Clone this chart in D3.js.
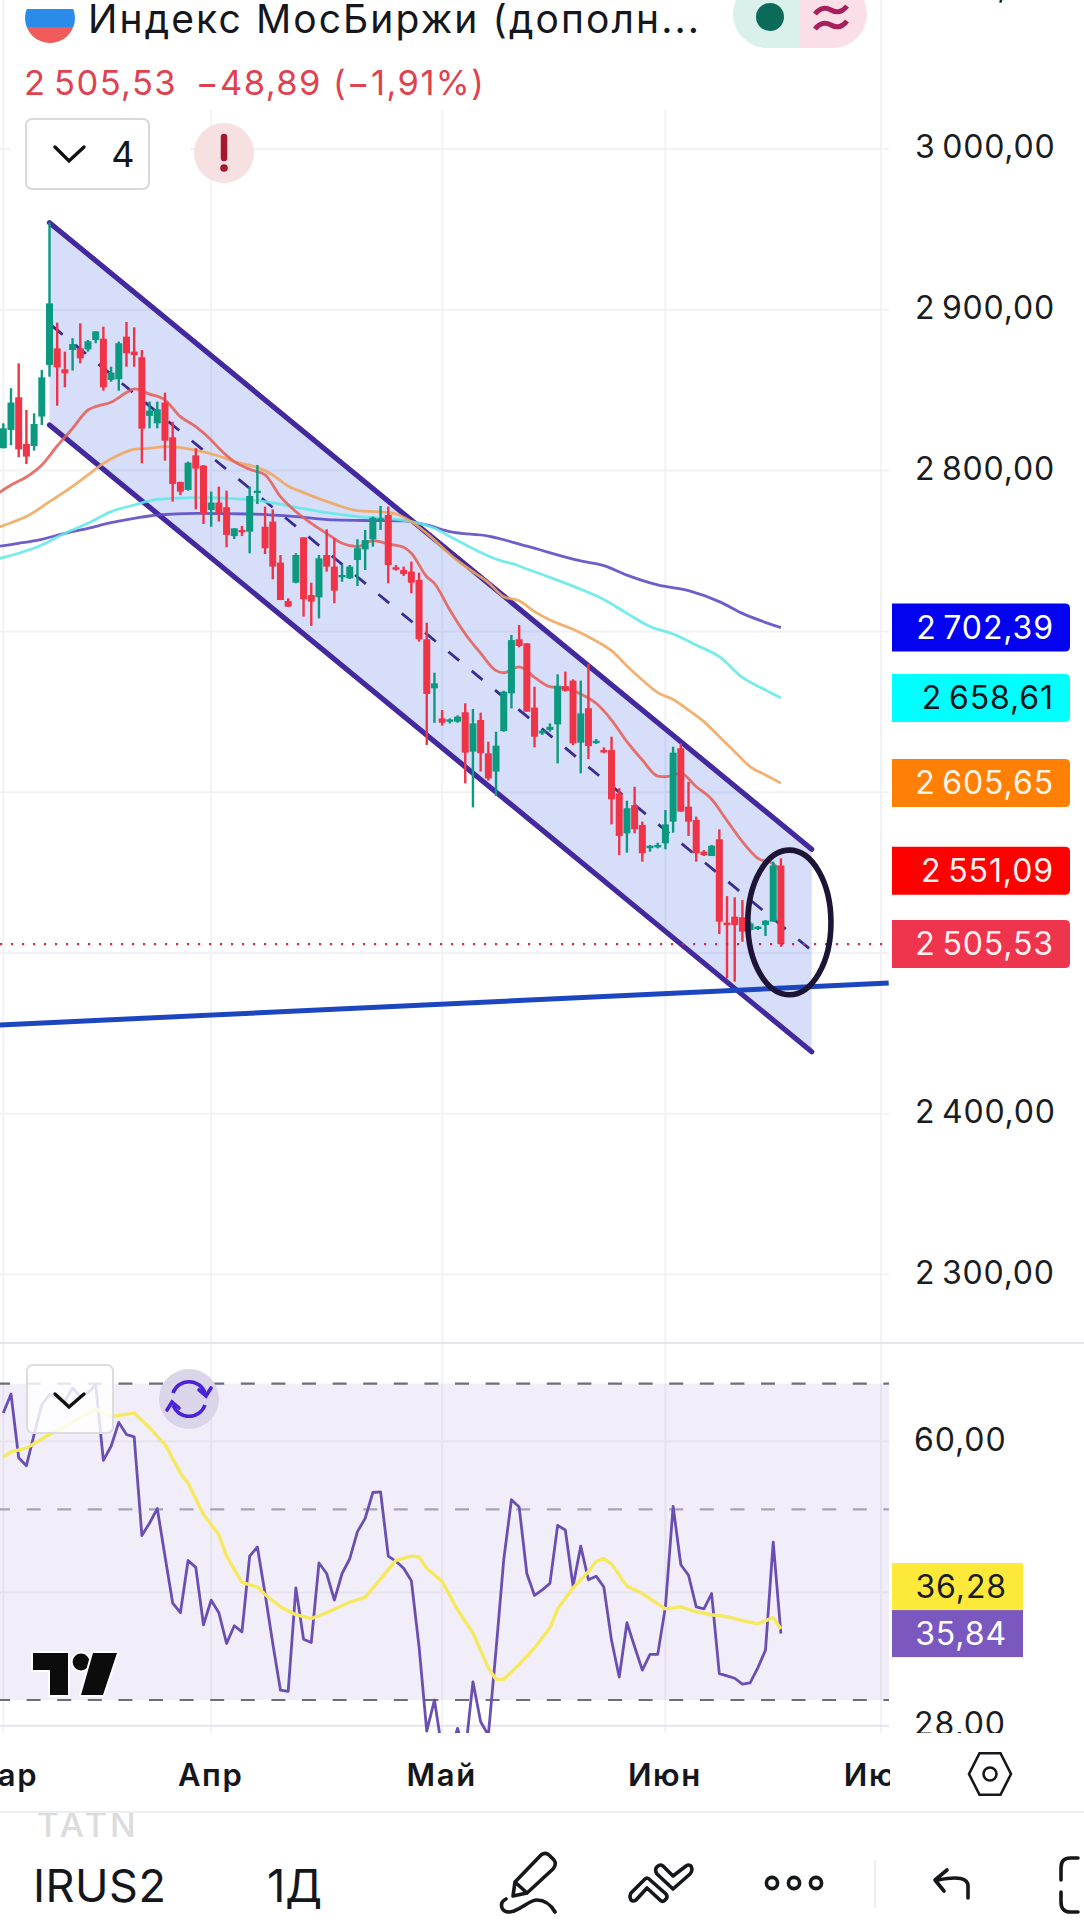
<!DOCTYPE html>
<html lang="ru">
<head>
<meta charset="utf-8">
<title>Индекс МосБиржи</title>
<script src="https://cdn.jsdelivr.net/npm/d3@7"></script>
<style>
  html, body { margin: 0; background: #fff; }
  svg { display: block; font-family: Inter, Roboto, sans-serif; }
</style>
</head>
<body>
<svg id="chart" width="1084" height="1920"></svg>
<script>
// Daily candles of the Moscow Exchange index, one entry per session
const opens = [2813.9,2825.3,2845.6,2816.6,2815.3,2833.6,2865.7,2876,2863,2875,2876,2875.4,2881.2,2882,2856.4,2856.8,2883.3,2874,2870.5,2834,2829.4,2842.3,2820.7,2792.9,2788,2809.5,2803.1,2775.5,2780.1,2777.2,2759.3,2763.1,2762,2786.3,2765.1,2768.3,2742.8,2718.9,2730.3,2758.5,2722.6,2721.2,2747.5,2740.3,2734,2733,2744.4,2751,2757.3,2768.9,2772.4,2739.9,2738.2,2737.2,2732,2695.1,2664.6,2645.9,2643.9,2643.9,2649.7,2625.2,2644.9,2624.2,2612.8,2638,2661.5,2695.1,2692.6,2652.6,2636.6,2638.7,2642.2,2666,2669.4,2630.8,2652.2,2630.8,2626.2,2626.2,2599.3,2574.4,2592,2579.6,2565.7,2566.1,2568.2,2581.7,2627.3,2591,2582.7,2563,2560.3,2570.7,2518.9,2522.6,2522.2,2514.3,2515.1,2517.4,2519.5,2554.42];
const highs = [2829.4,2851.2,2866.7,2837.7,2835.6,2862.6,2954.2,2892,2874,2882.3,2891.6,2881.2,2886.6,2889.5,2864.6,2880.2,2892.4,2889.1,2875,2842.9,2842.9,2848.5,2830.4,2793.1,2805.6,2813.9,2803.5,2786.9,2790,2787.5,2764.1,2765.6,2790,2803.5,2777.6,2775.9,2747.5,2720.6,2748.6,2758.5,2730.3,2747.5,2763.5,2757.9,2741.3,2741.3,2757.3,2763.1,2771.4,2778,2777.6,2741.3,2740.3,2743.4,2736.5,2705.4,2674.3,2651.1,2645.9,2647.8,2655.3,2651.7,2649.5,2631.4,2637.6,2663.1,2697.8,2704,2692.6,2665.6,2638.7,2642.8,2673.3,2675,2670.2,2669.4,2679.7,2633.1,2627.9,2634.5,2602.4,2594.7,2603.4,2581.7,2567.2,2568.6,2588.9,2628.3,2630.4,2606.5,2584.8,2564,2567.2,2576.9,2535.4,2534.6,2532.9,2519.5,2516.8,2520.5,2556.8,2558.9];
const lows = [2813.9,2815.9,2808.3,2804.1,2812.4,2828.4,2858.4,2840.4,2851.8,2862.2,2866.7,2874,2879.2,2849.7,2855.3,2849.7,2864.6,2864.6,2804.5,2826.3,2826.3,2806.2,2780.7,2784.8,2787.5,2775.9,2766.8,2765.1,2768.3,2752.3,2757.5,2759.3,2748.6,2779.2,2748.1,2732.4,2719.5,2715.4,2729.9,2709.2,2703.4,2708.1,2737.2,2717.5,2730.9,2732.6,2728.2,2738.2,2752.7,2763.1,2729.9,2737.8,2734.5,2723.7,2693.6,2629.3,2643.2,2641.4,2642.8,2643.2,2605.5,2590.6,2612.8,2607.2,2597.6,2637.6,2652.1,2690.1,2650.1,2627.9,2635.6,2637.6,2617.9,2662.5,2629.3,2611.7,2620.6,2630,2624.2,2580,2560.9,2562.4,2574.4,2556.8,2563,2565.1,2564.5,2574.8,2587.9,2572.8,2556.8,2560.3,2560.3,2511.8,2484.2,2482.2,2507,2513.3,2514.3,2510.6,2519.5,2503.9];
const closes = [2826.3,2842.3,2813.2,2808.7,2829,2858,2904,2864.2,2860.5,2878.7,2869.8,2880.4,2886.6,2851.8,2860.9,2879.2,2873,2871.9,2826.1,2837.3,2838.1,2818.6,2791.7,2786.9,2804.9,2801.2,2773.4,2780.1,2773.4,2760,2764.1,2761.8,2784.2,2787.5,2751.7,2740.3,2719.5,2715.4,2747.5,2720,2718.5,2745.4,2740.3,2725.3,2735.1,2740.3,2751.7,2756.8,2770.7,2770.3,2741.3,2738.6,2735.7,2730.3,2695.1,2661.1,2667.7,2643.2,2645.3,2647,2624.6,2642.8,2624.2,2608.6,2628.9,2662.5,2694.6,2690.9,2650.1,2634.5,2638.3,2640.7,2666.2,2663.1,2630.4,2649,2628.7,2632,2624.8,2595.6,2572.8,2590,2576.9,2562,2566.7,2567.2,2580,2624.6,2587.9,2581.7,2562,2560.9,2566.7,2519.5,2517.4,2517.4,2513.3,2518.4,2516.4,2520.1,2554.42,2505.53];

// Moving averages, each sampled at the listed session numbers
const maRedAt = [-1,1,3,5,7,9,11,12,14,16,17,19,21,23,25,27,28,30,32,34,36,38,40,42,44,46,48,50,52,53,55,56,58,60,62,64,65,67,69,71,73,75,77,79,81,83,85,86,88,90,92,94,96,98,100,101];
const maRed = [2784.8,2791,2796,2803.5,2815.3,2826.3,2837.7,2839.8,2842.5,2848.5,2850.8,2847.6,2843.9,2833.6,2827.3,2819,2813.9,2805.6,2800.8,2797.3,2783.8,2774.5,2767.2,2761,2754.8,2752.7,2756.4,2754.4,2752.3,2748.6,2734,2729.9,2713.3,2698.4,2686.4,2675.6,2674.3,2678,2671.4,2665.6,2664.6,2661.1,2655.3,2644.9,2631.4,2620,2610,2609.6,2611.7,2603.4,2595.6,2582.3,2569.2,2558.9,2555.4,2551.09];
const maOrangeAt = [-1,1,3,6,8,11,13,15,17,19,21,25,28,30,33,35,37,39,43,46,49,51,53,55,59,61,63,65,67,69,71,74,77,79,81,83,85,87,89,91,93,95,97,99,101];
const maOrange = [2764.1,2767.6,2771.4,2780.7,2786.9,2797.3,2804.5,2809.7,2813.2,2813.9,2814.9,2812.8,2809.1,2805.6,2802,2797.3,2790.4,2786.3,2779.2,2775.1,2774.3,2773,2768.3,2761,2744,2737.1,2730.3,2721.6,2719.1,2712.3,2707.1,2701.3,2694,2688,2678.5,2669.8,2661.9,2657.7,2651.1,2643.9,2634.5,2625.2,2615.9,2610.7,2605.65];
const maCyanAt = [-1,2,5,8,11,14,17,20,25,31,34,38,42,46,50,53,56,58,65,66,68,71,75,78,81,84,87,90,93,96,99,101];
const maCyan = [2744.8,2748.6,2753.7,2761,2767.2,2774.5,2778.6,2782.1,2783.2,2782.3,2780.7,2777.2,2773.8,2771.4,2770.1,2768.3,2764.1,2759,2743.4,2742.3,2738.8,2733.6,2726.2,2719.9,2711.2,2703,2698.4,2691.5,2684.3,2671.4,2663.6,2658.61];
const maBlueAt = [-1,2,5,8,11,14,17,20,25,32,38,43,48,52,55,58,63,68,75,78,81,85,89,93,96,101];
const maBlue = [2752.7,2754.8,2757.3,2761,2764.1,2767.6,2770.3,2772.4,2773.4,2773,2771.4,2769.3,2768.9,2768.7,2766.2,2762,2759.3,2753,2743.8,2740.9,2735,2728.9,2725.3,2718.5,2711.2,2702.39];

// Drawn objects: descending channel, support line and the circled area
const channelSessions = [6, 105];
const channelUpper = [2954.2, 2564.5];
const channelMiddle = [2891.3, 2501.55];
const channelLower = [2828.4, 2438.6];
const supportSessions = [-1, 115];
const supportLine = [2455.1, 2481.3];
const circledSessions = [96.7, 107.5];
const circledPrices = [2564, 2474];

// Relative strength, one value per session, and its smoothing
const rsiValues = [64.7,68.1,57.4,56.2,61.1,66.2,68,67.4,66.8,69.2,67.7,68.3,69.8,57,59.2,63.1,61.1,60.7,46.6,48.2,50.1,44.1,38.9,37.9,43.6,42.8,36.7,39.2,37.9,34.9,36.6,36,44.1,45.2,39.9,34.9,30.8,30.7,40.5,35.3,35,43.3,42.1,39.2,42.1,43.8,47.1,48.8,52.3,52.4,44.1,43.5,42.7,41.3,34.6,27.6,30,26.2,26,27.8,26,31.5,28.3,27.3,34.3,43.7,51.3,50.3,42.1,39.7,40.3,41,47.9,47.3,40.7,45.3,41.4,41.8,40.6,35.2,31.9,36.9,34.6,32.5,33.9,33.9,38.5,50.4,43.1,41.9,38.5,38.3,39.9,32.2,32,31.8,31.3,31.4,32.7,34.3,45.8,35.84];
const rsiAvgAt = [0,1,3,6,8,10,12,14,15,17,19,21,23,24,26,28,29,31,33,34,36,38,40,42,45,47,49,51,53,54,55,57,59,61,63,64,65,67,69,71,72,74,76,77,78,79,81,83,86,88,90,92,94,96,98,100,101];
const rsiAvg = [57.5,58.3,58.9,61.1,62.4,63.9,65.4,64.1,64.3,64.7,62.2,59.5,55.1,53.6,49.3,46.7,44.1,41.1,40.6,39.8,38.5,37.7,37.3,37.9,39,39.5,41.5,43.6,44.1,44,42.7,41.2,38.2,35.9,32.7,31.7,31.7,33,34.5,36.4,38.3,40.5,42.3,43.5,43.8,43.2,40.7,39.9,38.3,38.5,38,37.7,37.5,37.1,36.8,37.4,36.28];

// Axis contents
const priceGrid = [3000,2900,2800,2700,2600,2500,2400,2300];
const priceTicks = [3100,3000,2900,2800,2400,2300];
const rsiGrid = [60,40,28];
const rsiTicks = [60,28];
const rsiBands = [70,50,30];
const monthSessions = [0,27,57,86,114];
const monthLabels = ["Мар","Апр","Май","Июн","Июл"];

const paneRight = 889;
const x = d3.scaleLinear().domain([0,114]).range([3.3,881]);
const y = d3.scaleLinear().domain([3000,2300]).range([149,1274.6]);
const yRsi = d3.scaleLog().domain([70,30]).range([1383.7,1700]);

const ru = d3.formatLocale({decimal:",",thousands:"\u2009",grouping:[3],currency:["",""]});
const fmtPrice = ru.format(",.2f");
const fmtRsi = ru.format(".2f");

const GREEN = "#0b9a80", RED = "#f03447", VIOLET = "#43289e";
const svg = d3.select("#chart");
svg.append("rect").attr("width",1084).attr("height",1920).attr("fill","#fff");

const defs = svg.append("defs");
defs.append("clipPath").attr("id","pricePane").append("rect").attr("width",paneRight).attr("height",1343);
defs.append("clipPath").attr("id","rsiPane").append("rect").attr("y",1345).attr("width",paneRight).attr("height",388);
defs.append("clipPath").attr("id","timePane").append("rect").attr("y",1745).attr("width",890).attr("height",60);
defs.append("clipPath").attr("id","rsiLabels").append("rect").attr("x",890).attr("y",1345).attr("width",194).attr("height",388);
defs.append("clipPath").attr("id","footer").append("rect").attr("y",1813).attr("width",1084).attr("height",107);

// Grid
const gridColor = "#f1f2f5";
const grid = svg.append("g").attr("fill","none").attr("stroke",gridColor).attr("stroke-width",2);
grid.selectAll(".v").data(monthSessions).join("line")
  .attr("x1",d=>x(d)).attr("x2",d=>x(d)).attr("y1",0).attr("y2",1733);
grid.selectAll(".h").data(priceGrid).join("line")
  .attr("x1",0).attr("x2",paneRight).attr("y1",d=>y(d)).attr("y2",d=>y(d));

// Price pane
const pricePane = svg.append("g").attr("clip-path","url(#pricePane)");
const seriesLine = (at, vals, scale) => d3.line().x((d,i)=>x(at[i])).y(d=>scale(d))(vals);

// Channel tint, median and borders
const channelArea = d3.area().x((d,i)=>x(channelSessions[i])).y0((d,i)=>y(channelLower[i])).y1((d,i)=>y(channelUpper[i]));
pricePane.append("path").datum(channelSessions).attr("d",channelArea).attr("fill","rgb(50,90,225)").attr("fill-opacity",0.2);
pricePane.append("path").attr("d",seriesLine(channelSessions,channelMiddle,y)).attr("fill","none")
  .attr("stroke","#3b2c90").attr("stroke-width",2.8).attr("stroke-dasharray","14 16.2").attr("stroke-dashoffset",-3);
[channelUpper,channelLower].forEach(vals=>{
  pricePane.append("path").attr("d",seriesLine(channelSessions,vals,y)).attr("fill","none")
    .attr("stroke",VIOLET).attr("stroke-width",5.2).attr("stroke-linecap","round");
});

// Moving averages
const smooth = (at, vals) => d3.line().x((d,i)=>x(at[i])).y(d=>y(d)).curve(d3.curveMonotoneX)(vals);
[[maBlueAt,maBlue,"#5a48c4"],[maCyanAt,maCyan,"#62e9e8"],[maOrangeAt,maOrange,"#f0a65c"],[maRedAt,maRed,"#e55f57"]]
  .forEach(([at,vals,color])=>{
    pricePane.append("path").attr("d",smooth(at,vals)).attr("fill","none")
      .attr("stroke",color).attr("stroke-opacity",0.88).attr("stroke-width",2.8).attr("stroke-linejoin","round");
  });

// Support line
pricePane.append("path").attr("d",seriesLine(supportSessions,supportLine,y)).attr("fill","none")
  .attr("stroke","#1b46bf").attr("stroke-width",5);

// Candles
const sessions = d3.range(closes.length);
const candles = pricePane.append("g").selectAll("g").data(sessions).join("g")
  .attr("fill",i=>closes[i]>=opens[i]?GREEN:RED);
candles.append("rect").attr("x",i=>x(i)-1.2).attr("width",2.4)
  .attr("y",i=>y(highs[i])).attr("height",i=>y(lows[i])-y(highs[i]));
candles.append("rect").attr("x",i=>x(i)-3.5).attr("width",7)
  .attr("y",i=>y(Math.max(opens[i],closes[i])))
  .attr("height",i=>Math.max(2.4,Math.abs(y(opens[i])-y(closes[i]))));

// Last price marker line
const lastClose = closes[closes.length-1];
pricePane.append("line").attr("x1",0).attr("x2",paneRight).attr("y1",y(lastClose)).attr("y2",y(lastClose))
  .attr("stroke","#c6304a").attr("stroke-width",2.2).attr("stroke-dasharray","2.2 8.8");

// Circled area
pricePane.append("ellipse")
  .attr("cx",(x(circledSessions[0])+x(circledSessions[1]))/2)
  .attr("cy",(y(circledPrices[0])+y(circledPrices[1]))/2)
  .attr("rx",(x(circledSessions[1])-x(circledSessions[0]))/2)
  .attr("ry",(y(circledPrices[1])-y(circledPrices[0]))/2)
  .attr("fill","none").attr("stroke","#1d1436").attr("stroke-width",5.6);

// Price axis
const priceAxis = svg.append("g").attr("transform","translate(915,0)")
  .call(d3.axisRight(y).tickValues(priceTicks).tickSize(0).tickPadding(0).tickFormat(fmtPrice));
priceAxis.select(".domain").remove();
priceAxis.selectAll("text").attr("font-size",32).attr("letter-spacing",0.8).attr("fill","#1a1c22").attr("dy","0.27em")
  .attr("font-family","Inter, Roboto, sans-serif");

// Value tags on the axis, square on the pane side
const tagShape = (left, right, cy) =>
  `M${left} ${cy-24}H${right-5}Q${right} ${cy-24} ${right} ${cy-19}V${cy+19}Q${right} ${cy+24} ${right-5} ${cy+24}H${left}Z`;
const tag = (label, cy, fill, ink) => {
  svg.append("path").attr("d",tagShape(892,1070,cy)).attr("fill",fill);
  svg.append("text").attr("x",1054).attr("y",cy).attr("dy","0.35em").attr("text-anchor","end")
    .attr("font-size",32).attr("letter-spacing",0.9).attr("fill",ink).text(label);
};
tag(fmtPrice(maBlue[maBlue.length-1]), y(maBlue[maBlue.length-1]), "#0303f0", "#ffffff");
tag(fmtPrice(maCyan[maCyan.length-1]), y(maCyan[maCyan.length-1]), "#00ffff", "#10161c");
tag(fmtPrice(maOrange[maOrange.length-1]), y(maOrange[maOrange.length-1]), "#ff8004", "#fff4e6");
tag(fmtPrice(maRed[maRed.length-1]), y(maRed[maRed.length-1]), "#fd0000", "#fff0f0");
tag(fmtPrice(lastClose), y(lastClose), "#ef344e", "#fff0f0");

// Indicator pane
svg.append("line").attr("x1",0).attr("x2",1084).attr("y1",1343).attr("y2",1343).attr("stroke","#e4e6eb").attr("stroke-width",2);
svg.append("rect").attr("y",yRsi(rsiBands[0])).attr("width",paneRight)
  .attr("height",yRsi(rsiBands[2])-yRsi(rsiBands[0])).attr("fill","#7e57c2").attr("fill-opacity",0.1);
const rsiPane = svg.append("g").attr("clip-path","url(#rsiPane)");
rsiPane.selectAll(".g").data(rsiGrid).join("line")
  .attr("x1",0).attr("x2",paneRight).attr("y1",d=>yRsi(d)).attr("y2",d=>yRsi(d))
  .attr("stroke","#e6e3ee").attr("stroke-width",2);
rsiPane.selectAll(".b").data(rsiBands).join("line")
  .attr("x1",-4).attr("x2",paneRight).attr("y1",d=>yRsi(d)).attr("y2",d=>yRsi(d))
  .attr("stroke",d=>d===50?"#a7a3b3":"#6f6d78").attr("stroke-width",2.2).attr("stroke-dasharray","14 16.6");
rsiPane.append("path").datum(rsiValues)
  .attr("d",d3.line().x((d,i)=>x(i)).y(d=>yRsi(d)))
  .attr("fill","none").attr("stroke","#6a4fb3").attr("stroke-width",2.8).attr("stroke-linejoin","round");
rsiPane.append("path").attr("d",seriesLine(rsiAvgAt,rsiAvg,yRsi))
  .attr("fill","none").attr("stroke","#f5e95f").attr("stroke-width",3.4).attr("stroke-linejoin","round");

const rsiAxis = svg.append("g").attr("clip-path","url(#rsiLabels)").append("g").attr("transform","translate(914,0)")
  .call(d3.axisRight(yRsi).tickValues(rsiTicks).tickSize(0).tickPadding(0).tickFormat(fmtRsi));
rsiAxis.select(".domain").remove();
rsiAxis.selectAll("text").attr("font-size",32).attr("letter-spacing",0.9).attr("fill","#1a1c22").attr("dy","0.28em")
  .attr("font-family","Inter, Roboto, sans-serif");

const rsiLast = rsiValues[rsiValues.length-1], avgLast = rsiAvg[rsiAvg.length-1];
const rsiTag = (label, cy, fill, ink) => {
  svg.append("rect").attr("x",892).attr("y",cy-23.5).attr("width",131).attr("height",47).attr("fill",fill);
  svg.append("text").attr("x",1007).attr("y",cy).attr("dy","0.35em").attr("text-anchor","end")
    .attr("font-size",32).attr("letter-spacing",0.9).attr("fill",ink).text(label);
};
rsiTag(fmtRsi(avgLast), yRsi(rsiLast)-47, "#fde93a", "#1a1c22");
rsiTag(fmtRsi(rsiLast), yRsi(rsiLast), "#7a58c0", "#ffffff");

// Logo
const logo = svg.append("g").attr("fill","#0c0c0c").attr("stroke","#ffffff").attr("stroke-width",4).attr("paint-order","stroke").attr("stroke-linejoin","round");
logo.append("path").attr("d","M33 1653H68V1695H50V1670H33Z");
logo.append("circle").attr("cx",81).attr("cy",1662).attr("r",8.4);
logo.append("path").attr("d","M93 1653H117L103 1695H81Z");

// Indicator pane buttons
svg.append("rect").attr("x",27).attr("y",1365).attr("width",86).attr("height",68).attr("rx",6)
  .attr("fill","#ffffff").attr("fill-opacity",0.82).attr("stroke","#dcdcdf").attr("stroke-width",2);
svg.append("path").attr("d","M55 1394L69 1407L84 1394").attr("fill","none").attr("stroke","#111").attr("stroke-width",3.4).attr("stroke-linecap","round");
svg.append("circle").attr("cx",189).attr("cy",1399).attr("r",30).attr("fill","#dbd5ea");
const refresh = svg.append("g").attr("fill","none").attr("stroke","#4a22d8").attr("stroke-width",3.6);
refresh.append("path").attr("d","M173 1393A17 17 0 0 1 205 1393");
refresh.append("path").attr("d","M205 1405A17 17 0 0 1 173 1405");
refresh.append("path").attr("d","M199 1390L206 1396L211 1388M179 1408L172 1402L167 1410").attr("stroke-linecap","round");

// Time axis
const timeAxis = svg.append("g").attr("clip-path","url(#timePane)").append("g").attr("transform","translate(-1,1775)")
  .call(d3.axisBottom(x).tickValues(monthSessions).tickSize(0).tickPadding(0).tickFormat((d,i)=>monthLabels[i]));
timeAxis.select(".domain").remove();
timeAxis.selectAll("text").attr("y",0).attr("dy","0.36em").attr("font-size",31).attr("letter-spacing",1.6)
  .attr("font-weight",600).attr("fill","#15171c").attr("font-family","Inter, Roboto, sans-serif");

// Chart settings hexagon
const hexPoints = d3.range(6).map(k=>{
  const a = Math.PI/3*k;
  return [990+21*Math.cos(a), 1774+24*Math.sin(a)];
});
svg.append("polygon").attr("points",hexPoints.join(" ")).attr("fill","none").attr("stroke","#15171c").attr("stroke-width",2.6);
svg.append("circle").attr("cx",990).attr("cy",1774).attr("r",6.5).attr("fill","none").attr("stroke","#15171c").attr("stroke-width",2.6);

svg.append("line").attr("x1",0).attr("x2",1084).attr("y1",1812).attr("y2",1812).attr("stroke","#eceef1").attr("stroke-width",2);

// Legend header
svg.append("rect").attr("x",10).attr("y",0).attr("width",680).attr("height",110).attr("fill","#fff");
svg.append("rect").attr("x",10).attr("y",110).attr("width",180).attr("height",86).attr("fill","#fff");
const flag = svg.append("g");
defs.append("clipPath").attr("id","flagDisc").append("circle").attr("cx",50).attr("cy",18).attr("r",25);
flag.attr("clip-path","url(#flagDisc)");
flag.append("rect").attr("x",25).attr("y",-7).attr("width",50).attr("height",16).attr("fill","#ffffff");
flag.append("rect").attr("x",25).attr("y",9).attr("width",50).attr("height",18).attr("fill","#2a8be8");
flag.append("rect").attr("x",25).attr("y",27).attr("width",50).attr("height",17).attr("fill","#f05a5a");
svg.append("text").attr("x",88).attr("y",33).attr("font-size",39).attr("letter-spacing",2.1).attr("fill","#15171c").text("Индекс МосБиржи (дополн...");
svg.append("text").attr("x",24).attr("y",95).attr("font-size",34.5).attr("letter-spacing",1.4).attr("fill","#e0414f")
  .text(fmtPrice(lastClose)+"\u00a0\u2009−"+ru.format(".2f")(48.89)+" (−"+ru.format(".2f")(1.91)+"%)");

// Market status pill
svg.append("path").attr("d","M800 -20H767A34 34 0 0 0 733 14A34 34 0 0 0 767 48H800Z").attr("fill","#daf0eb");
svg.append("path").attr("d","M800 -20H833A34 34 0 0 1 867 14A34 34 0 0 1 833 48H800Z").attr("fill","#fbdfe8");
svg.append("circle").attr("cx",770).attr("cy",17).attr("r",14).attr("fill","#0b6b58");
svg.append("path").attr("d","M815 14Q822 5 831 10T847 6M815 29Q822 20 831 25T847 21").attr("fill","none").attr("stroke","#a81f5c").attr("stroke-width",5);

// Collapsed indicators button and warning badge
svg.append("rect").attr("x",26).attr("y",119).attr("width",123).attr("height",70).attr("rx",6).attr("fill","#fff").attr("stroke","#d9d9dc").attr("stroke-width",2);
svg.append("path").attr("d","M55 147L69 161L84 147").attr("fill","none").attr("stroke","#111").attr("stroke-width",3.4).attr("stroke-linecap","round");
svg.append("text").attr("x",123).attr("y",167).attr("text-anchor","middle").attr("font-size",36).attr("fill","#15171c").text("4");
svg.append("circle").attr("cx",224).attr("cy",153).attr("r",30).attr("fill","#f6e0e2");
svg.append("path").attr("d","M224 137V158").attr("stroke","#a3182f").attr("stroke-width",6.5).attr("stroke-linecap","round");
svg.append("circle").attr("cx",224).attr("cy",168).attr("r",3.8).attr("fill","#a3182f");

// Bottom toolbar
const toolbar = svg.append("g");
svg.append("text").attr("x",37).attr("y",1837).attr("font-size",34).attr("font-weight",500).attr("letter-spacing",3.5).attr("fill","#dcdcdc").attr("clip-path","url(#footer)").text("TATN");
toolbar.append("text").attr("x",33).attr("y",1902).attr("font-size",45).attr("letter-spacing",0.5).attr("fill","#15171c").text("IRUS2");
toolbar.append("text").attr("x",267).attr("y",1902).attr("font-size",45).attr("fill","#15171c").text("1Д");
const ink = toolbar.append("g").attr("fill","none").attr("stroke","#15171c").attr("stroke-width",3.6).attr("stroke-linejoin","round").attr("stroke-linecap","round");
// Pencil with a scribble
ink.append("path").attr("d","M513 1896L515 1882L541 1855Q546 1851 550 1856L554 1860Q557 1864 553 1869L527 1893ZM515 1882L527 1893");
ink.append("path").attr("d","M506 1899Q500 1902 502 1908Q505 1914 514 1911C526 1906 530 1900 537 1900Q548 1900 555 1912");
// Paired chevrons
ink.append("path").attr("d","M631 1893L645 1879Q647 1877 649 1879L666 1894Q668 1897 666 1899L664 1901Q662 1902 660 1900L647 1888L636 1900Q633 1902 631 1900L630 1897Q630 1895 631 1893Z");
ink.append("path").attr("d","M656 1868L658 1866Q660 1864 663 1866L673 1876L686 1866Q689 1864 691 1866L692 1869Q692 1872 690 1874L673 1889L657 1874Q655 1871 656 1868Z");
[772,794,816].forEach(cx=>ink.append("circle").attr("cx",cx).attr("cy",1883).attr("r",5.6));
toolbar.append("line").attr("x1",875).attr("x2",875).attr("y1",1860).attr("y2",1908).attr("stroke","#eeeff2").attr("stroke-width",2);
ink.append("path").attr("d","M968 1898V1886C968 1878 958 1876 938 1880M947 1870L935 1880L944 1891");
ink.append("path").attr("d","M1078 1858H1070C1063 1858 1061 1862 1061 1868V1880M1061 1892V1902C1061 1908 1064 1912 1070 1912H1078");
</script>
</body>
</html>
